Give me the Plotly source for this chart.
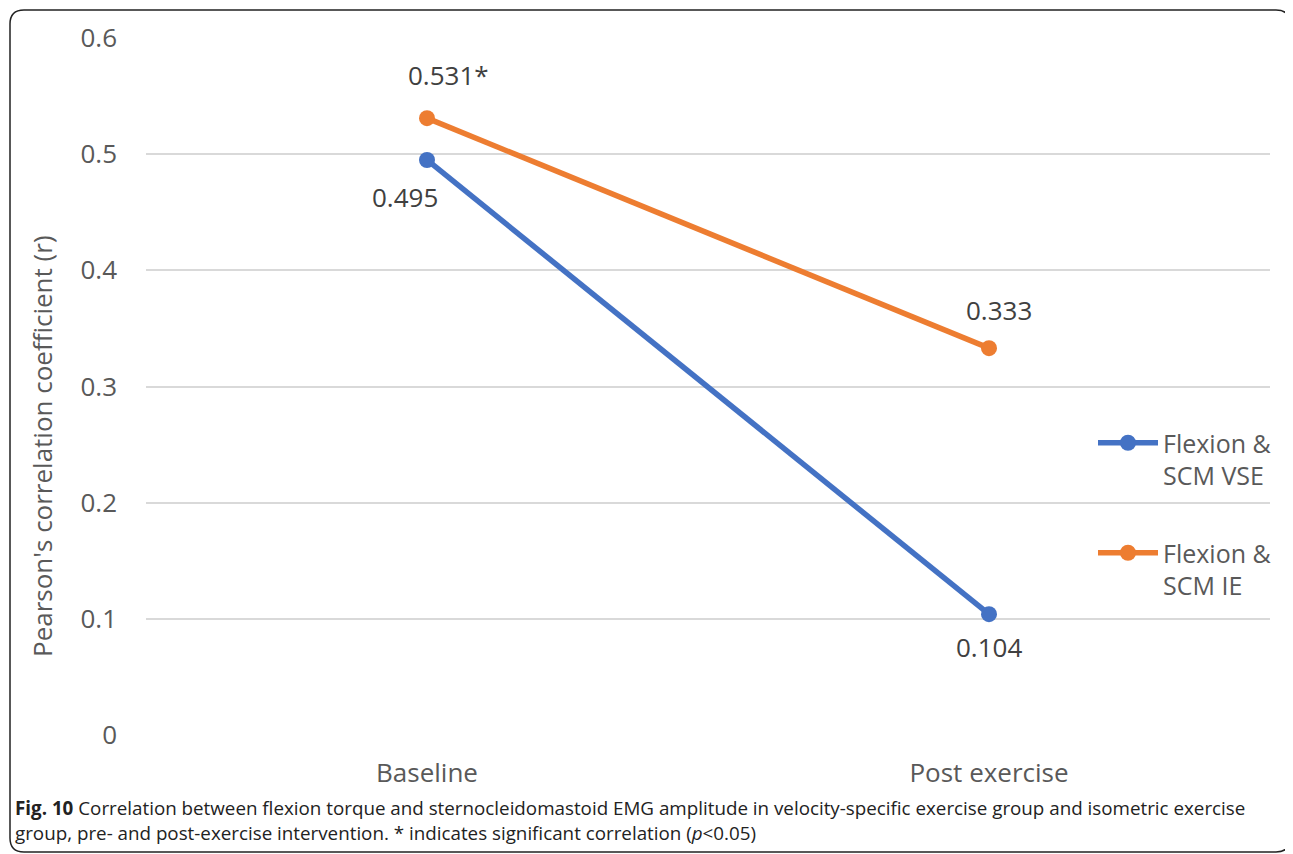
import plotly.graph_objects as go

categories = ["Baseline", "Post exercise"]
vse_values = [0.495, 0.104]
ie_values = [0.531, 0.333]
ie_sig = ["*", ""]
series_names = ["Flexion &<br>SCM VSE", "Flexion &<br>SCM IE"]
y_ticks = [0, 0.1, 0.2, 0.3, 0.4, 0.5, 0.6]

BLUE = "#4472C4"
ORANGE = "#ED7D31"
FONT = "Open Sans"
FS = 26

OFF = 8  # page body margin offset
W, H = 1293 - OFF, 854 - OFF
L, R, T, B = 146 - OFF, 1270 - OFF, 38 - OFF, 735 - OFF

def px(xp):
    return (xp - OFF - L) / (R - L)

def py(yp):
    return (B - (yp - OFF)) / (B - T)

fig = go.Figure()
fig.add_trace(go.Scatter(x=categories, y=vse_values, mode="lines+markers", name=series_names[0],
                         line=dict(color=BLUE, width=5.5), marker=dict(size=16, color=BLUE),
                         legendgroup="a"))
fig.add_trace(go.Scatter(x=categories, y=ie_values, mode="lines+markers", name=series_names[1],
                         line=dict(color=ORANGE, width=5.5), marker=dict(size=16, color=ORANGE),
                         legendgroup="b"))

# data labels
label_offsets_vse = [(-22, -37), (0, -33)]
label_offsets_ie = [(21, 43), (10, 38)]
for i, c in enumerate(categories):
    dx, dy = label_offsets_vse[i]
    fig.add_annotation(x=c, y=vse_values[i], text=f"{vse_values[i]:.3f}", showarrow=False,
                       xshift=dx, yshift=dy, font=dict(family=FONT, size=FS, color="#404040"))
    dx, dy = label_offsets_ie[i]
    fig.add_annotation(x=c, y=ie_values[i], text=f"{ie_values[i]:.3f}{ie_sig[i]}", showarrow=False,
                       xshift=dx, yshift=dy, font=dict(family=FONT, size=FS, color="#404040"))

# axis title
fig.add_annotation(xref="paper", yref="paper", x=px(42), y=py(446), xanchor="center", yanchor="middle",
                   text="Pearson's correlation coefficient (r)",
                   textangle=-90, showarrow=False, font=dict(family=FONT, size=FS, color="#595959"))

# caption
fig.add_annotation(xref="paper", yref="paper", x=px(13), y=py(808), xanchor="left", yanchor="middle",
                   text="<b>Fig. 10</b> Correlation between flexion torque and sternocleidomastoid EMG amplitude in velocity-specific exercise group and isometric exercise",
                   showarrow=False, font=dict(family=FONT, size=18.8, color="#222222"))
fig.add_annotation(xref="paper", yref="paper", x=px(13), y=py(833), xanchor="left", yanchor="middle",
                   text="group, pre- and post-exercise intervention. * indicates significant correlation (<i>p</i>&lt;0.05)",
                   showarrow=False, font=dict(family=FONT, size=18.8, color="#222222"))

# rounded border
x0, x1, y0, y1, r = 10, 1290, 10, 852, 14
path = (f"M {px(x0+r)},{py(y0)} L {px(x1-r)},{py(y0)} Q {px(x1)},{py(y0)} {px(x1)},{py(y0+r)} "
        f"L {px(x1)},{py(y1-r)} Q {px(x1)},{py(y1)} {px(x1-r)},{py(y1)} "
        f"L {px(x0+r)},{py(y1)} Q {px(x0)},{py(y1)} {px(x0)},{py(y1-r)} "
        f"L {px(x0)},{py(y0+r)} Q {px(x0)},{py(y0)} {px(x0+r)},{py(y0)} Z")
fig.add_shape(type="path", path=path, xref="paper", yref="paper", line=dict(color="#222222", width=1.5))

fig.update_layout(
    width=W, height=H,
    margin=dict(l=L, r=W - R, t=T, b=H - B),
    paper_bgcolor="white", plot_bgcolor="white",
    font=dict(family=FONT, size=FS, color="#595959"),
    xaxis=dict(type="category", range=[-0.5, 1.5], showgrid=False, showline=False, zeroline=False,
               tickfont=dict(family=FONT, size=FS, color="#595959"), ticks="", ticklabelstandoff=20),
    yaxis=dict(range=[0, 0.6], tickvals=y_ticks, ticktext=[f"{v:g}" for v in y_ticks],
               showgrid=True, gridcolor="#D9D9D9", gridwidth=1.5, zeroline=False, showline=False,
               tickfont=dict(family=FONT, size=FS, color="#595959"), ticks="", ticklabelstandoff=28),
    legend=dict(x=px(1093), y=py(420), xanchor="left", yanchor="top", bgcolor="rgba(0,0,0,0)",
                font=dict(family=FONT, size=FS - 1, color="#595959"), valign="top",
                tracegroupgap=42, itemwidth=60),
    showlegend=True,
)

fig.write_html("out.html")
